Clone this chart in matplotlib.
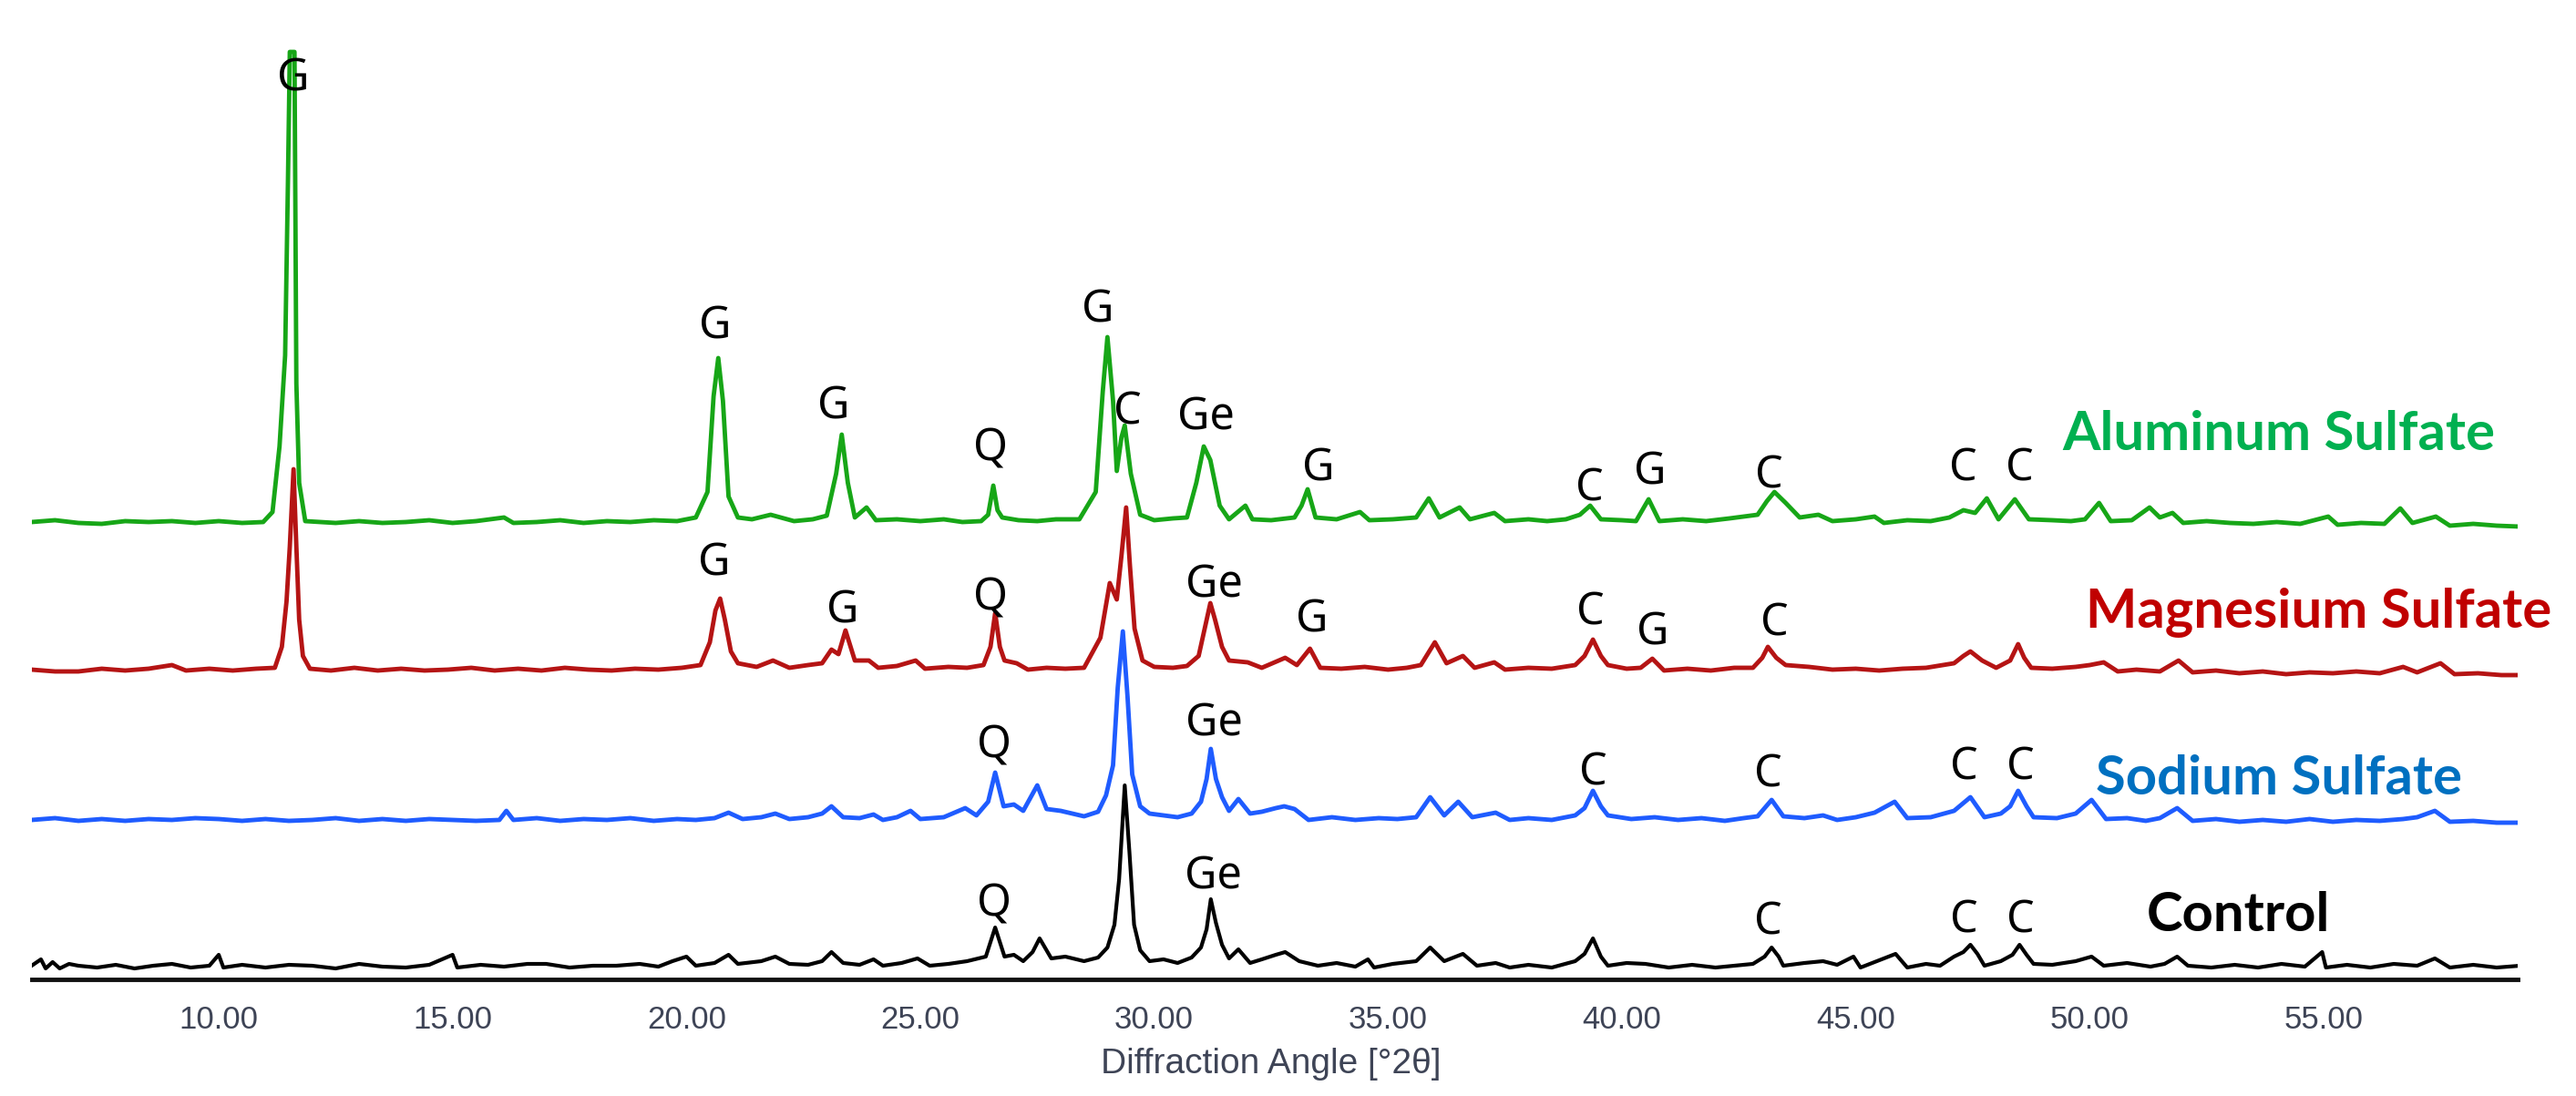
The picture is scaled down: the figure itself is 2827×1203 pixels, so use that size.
import matplotlib
matplotlib.use("Agg")
import matplotlib.pyplot as plt
from matplotlib import font_manager

# ---------------- data (2theta, raw intensity) ----------------
two_theta_ticks = [10, 15, 20, 25, 30, 35, 40, 45, 50, 55]
tick_labels = ["10.00", "15.00", "20.00", "25.00", "30.00", "35.00", "40.00", "45.00", "50.00", "55.00"]

series_names = ["Control", "Sodium Sulfate", "Magnesium Sulfate", "Aluminum Sulfate"]
series_offsets = [0, 160, 325, 490]

control_x = [6.0, 6.2, 6.3, 6.45, 6.6, 6.8, 7.0, 7.4, 7.8, 8.2, 8.6, 9.0, 9.4, 9.8, 10.0, 10.1, 10.5, 11.0,
             11.5, 12.0, 12.5, 13.0, 13.5, 14.0, 14.5, 15.0, 15.1, 15.6, 16.1, 16.6, 17.0, 17.5, 18.0, 18.5,
             19.0, 19.4, 19.7, 20.0, 20.2, 20.6, 20.9, 21.1, 21.6, 21.9, 22.2, 22.6, 22.9, 23.1, 23.35, 23.7,
             24.0, 24.2, 24.6, 24.94, 25.2, 25.6, 26.0, 26.4, 26.6, 26.8, 27.0, 27.2, 27.4, 27.55, 27.8, 28.1,
             28.5, 28.8, 29.0, 29.15, 29.25, 29.37, 29.47, 29.57, 29.7, 29.9, 30.2, 30.5, 30.8, 31.0, 31.12,
             31.21, 31.32, 31.45, 31.6, 31.8, 32.05, 32.3, 32.6, 32.8, 33.1, 33.5, 33.9, 34.3, 34.57, 34.7,
             35.1, 35.6, 35.9, 36.2, 36.6, 36.9, 37.3, 37.6, 38.0, 38.5, 39.0, 39.2, 39.38, 39.55, 39.7,
             40.1, 40.5, 41.0, 41.5, 42.0, 42.4, 42.8, 43.05, 43.2, 43.35, 43.45, 43.9, 44.3, 44.6, 44.95,
             45.1, 45.6, 45.85, 46.1, 46.5, 46.8, 47.1, 47.3, 47.45, 47.6, 47.75, 48.1, 48.35, 48.5, 48.65,
             48.8, 49.2, 49.7, 50.04, 50.3, 50.8, 51.3, 51.6, 51.87, 52.1, 52.6, 53.1, 53.6, 54.1, 54.6,
             54.97, 55.05, 55.5, 56.0, 56.5, 57.0, 57.38, 57.7, 58.2, 58.7, 59.2]
control_y = [15, 22, 12, 19, 12, 17, 15, 13, 16, 12, 15, 17, 13, 15, 27, 13, 16, 13,
             16, 15, 12, 17, 14, 13, 16, 27, 13, 16, 14, 17, 17, 13, 15, 15,
             17, 14, 20, 25, 15, 18, 27, 17, 20, 25, 17, 16, 20, 30, 18, 16,
             22, 15, 18, 23, 15, 17, 20, 25, 57, 25, 27, 20, 30, 45, 23, 25,
             20, 24, 35, 60, 110, 213, 140, 60, 32, 20, 22, 18, 24, 35, 55,
             88, 62, 38, 23, 33, 18, 22, 27, 30, 20, 15, 18, 14, 22, 13,
             17, 20, 35, 20, 28, 15, 18, 13, 16, 13, 20, 28, 45, 25, 15,
             18, 17, 13, 16, 13, 15, 17, 25, 35, 25, 15, 18, 20, 16, 25,
             13, 23, 28, 13, 17, 15, 25, 30, 38, 28, 15, 20, 27, 38, 27,
             17, 16, 20, 25, 15, 18, 14, 17, 25, 15, 13, 16, 13, 17, 14,
             30, 13, 16, 13, 17, 15, 23, 13, 16, 13, 15]

sodium_x = [6.0, 6.5, 7.0, 7.5, 8.0, 8.5, 9.0, 9.5, 10.0, 10.5, 11.0, 11.5, 12.0, 12.5, 13.0, 13.5, 14.0, 14.5,
            15.0, 15.5, 16.0, 16.15, 16.3, 16.8, 17.3, 17.8, 18.3, 18.8, 19.3, 19.8, 20.2, 20.6, 20.9, 21.2,
            21.6, 21.9, 22.2, 22.6, 22.9, 23.1, 23.35, 23.7, 24.0, 24.2, 24.5, 24.79, 25.0, 25.5, 25.96,
            26.2, 26.45, 26.6, 26.78, 27.0, 27.2, 27.5, 27.7, 28.0, 28.5, 28.8, 28.97, 29.12, 29.22, 29.33,
            29.43, 29.53, 29.7, 29.9, 30.2, 30.5, 30.8, 31.0, 31.12, 31.21, 31.32, 31.45, 31.6, 31.8,
            32.05, 32.3, 32.6, 32.78, 33.0, 33.3, 33.8, 34.3, 34.8, 35.2, 35.6, 35.9, 36.2, 36.5, 36.8,
            37.3, 37.6, 38.0, 38.5, 39.0, 39.2, 39.38, 39.55, 39.7, 40.2, 40.7, 41.2, 41.7, 42.2, 42.6,
            42.9, 43.2, 43.45, 43.9, 44.3, 44.6, 45.0, 45.4, 45.83, 46.1, 46.6, 47.1, 47.45, 47.75, 48.1,
            48.3, 48.47, 48.65, 48.8, 49.3, 49.7, 50.04, 50.35, 50.8, 51.2, 51.5, 51.87, 52.2, 52.7, 53.2,
            53.7, 54.2, 54.7, 55.2, 55.7, 56.2, 56.7, 57.0, 57.38, 57.7, 58.2, 58.7, 59.2]
sodium_y = [15, 17, 14, 16, 14, 16, 15, 17, 16, 14, 16, 14, 15, 17, 14, 16, 14, 16,
            15, 14, 15, 25, 15, 17, 14, 16, 15, 17, 14, 16, 15, 17, 23, 16,
            18, 22, 16, 18, 22, 30, 18, 17, 21, 15, 18, 25, 16, 18, 28,
            20, 35, 67, 30, 32, 25, 53, 27, 25, 19, 24, 42, 75, 160, 222,
            150, 65, 30, 22, 20, 18, 22, 35, 60, 93, 60, 40, 25, 38,
            22, 24, 28, 30, 27, 15, 18, 15, 17, 16, 18, 40, 20, 35, 18,
            23, 15, 17, 15, 20, 28, 47, 30, 20, 16, 18, 15, 17, 14, 17,
            19, 37, 19, 17, 20, 15, 18, 23, 35, 17, 18, 25, 40, 18, 22,
            30, 47, 30, 18, 17, 22, 37, 16, 17, 14, 17, 28, 14, 16, 13,
            15, 13, 16, 13, 15, 14, 16, 18, 25, 13, 14, 12, 12]

magnesium_x = [6.0, 6.5, 7.0, 7.5, 8.0, 8.5, 9.0, 9.3, 9.8, 10.3, 10.8, 11.2, 11.35, 11.45, 11.52, 11.6, 11.66,
               11.72, 11.8, 11.95, 12.4, 12.9, 13.4, 13.9, 14.4, 14.9, 15.4, 15.9, 16.4, 16.9, 17.4, 17.9,
               18.4, 18.9, 19.4, 19.9, 20.3, 20.5, 20.62, 20.72, 20.82, 20.95, 21.1, 21.5, 21.85, 22.2, 22.6,
               22.9, 23.1, 23.25, 23.4, 23.6, 23.9, 24.1, 24.5, 24.9, 25.1, 25.6, 26.0, 26.35, 26.5, 26.6,
               26.7, 26.8, 27.06, 27.3, 27.7, 28.1, 28.5, 28.85, 29.05, 29.2, 29.3, 29.4, 29.48, 29.58, 29.75,
               30.0, 30.4, 30.7, 30.95, 31.1, 31.2, 31.3, 31.45, 31.6, 32.0, 32.3, 32.8, 33.05, 33.33, 33.55,
               34.0, 34.5, 35.0, 35.4, 35.7, 36.0, 36.25, 36.6, 36.85, 37.27, 37.5, 38.0, 38.5, 39.0, 39.2,
               39.38, 39.55, 39.7, 40.1, 40.4, 40.65, 40.9, 41.4, 41.9, 42.4, 42.8, 43.0, 43.12, 43.3, 43.5,
               44.0, 44.5, 45.0, 45.5, 46.0, 46.5, 47.1, 47.3, 47.45, 47.7, 48.0, 48.3, 48.47, 48.6, 48.75,
               49.2, 49.7, 50.0, 50.3, 50.6, 51.0, 51.5, 51.9, 52.2, 52.7, 53.2, 53.7, 54.2, 54.7, 55.2, 55.7,
               56.2, 56.7, 57.0, 57.5, 57.8, 58.3, 58.8, 59.2]
magnesium_y = [15, 13, 13, 16, 14, 16, 20, 14, 16, 14, 16, 17, 40, 90, 150, 235, 150,
               70, 30, 16, 14, 17, 14, 16, 14, 15, 17, 14, 16, 14, 17, 15,
               14, 16, 15, 17, 20, 45, 80, 93, 70, 35, 22, 18, 25, 17, 20,
               22, 37, 32, 58, 25, 25, 17, 19, 25, 16, 18, 17, 20, 40, 77,
               40, 25, 22, 15, 17, 16, 17, 50, 110, 92, 140, 193, 130, 60, 25,
               18, 17, 19, 30, 65, 88, 70, 40, 25, 23, 17, 28, 20, 38, 17,
               16, 18, 15, 17, 20, 45, 22, 30, 17, 23, 15, 17, 16, 20, 30,
               48, 30, 20, 16, 17, 27, 14, 16, 14, 17, 17, 28, 40, 28, 20,
               18, 15, 16, 14, 16, 17, 22, 30, 35, 25, 17, 25, 43, 28, 17,
               16, 18, 20, 23, 13, 15, 13, 25, 12, 14, 11, 13, 10, 12, 11, 13,
               11, 18, 12, 22, 10, 11, 9, 9]

aluminum_x = [6.0, 6.5, 7.0, 7.5, 8.0, 8.5, 9.0, 9.5, 10.0, 10.5, 10.95, 11.15, 11.3, 11.42, 11.48, 11.52,
              11.62, 11.66, 11.72, 11.85, 12.5, 13.0, 13.5, 14.0, 14.5, 15.0, 15.5, 16.1, 16.3, 16.8, 17.3,
              17.8, 18.3, 18.8, 19.3, 19.8, 20.2, 20.45, 20.58, 20.68, 20.78, 20.9, 21.1, 21.4, 21.8, 22.3,
              22.7, 23.0, 23.2, 23.32, 23.45, 23.6, 23.85, 24.05, 24.5, 25.0, 25.5, 25.9, 26.3, 26.45, 26.56,
              26.65, 26.75, 27.1, 27.5, 27.9, 28.4, 28.75, 28.9, 29.0, 29.12, 29.2, 29.3, 29.37, 29.5, 29.7,
              30.0, 30.4, 30.7, 30.9, 31.06, 31.2, 31.4, 31.6, 31.95, 32.1, 32.5, 33.0, 33.15, 33.28, 33.45,
              33.9, 34.4, 34.6, 35.1, 35.6, 35.87, 36.1, 36.53, 36.75, 37.27, 37.5, 38.0, 38.4, 38.8, 39.1,
              39.32, 39.55, 40.0, 40.3, 40.57, 40.8, 41.3, 41.8, 42.3, 42.9, 43.1, 43.26, 43.5, 43.8, 44.2,
              44.5, 45.0, 45.4, 45.6, 46.1, 46.6, 47.0, 47.3, 47.55, 47.8, 48.05, 48.4, 48.7, 49.2, 49.6,
              49.9, 50.2, 50.45, 50.9, 51.28, 51.5, 51.77, 52.0, 52.5, 53.0, 53.5, 54.0, 54.5, 55.1, 55.3,
              55.8, 56.3, 56.64, 56.9, 57.4, 57.7, 58.2, 58.7, 59.2]
aluminum_y = [12, 14, 11, 10, 13, 12, 13, 11, 13, 11, 12, 23, 95, 195, 385, 528,
              528, 164, 55, 13, 11, 13, 11, 12, 14, 11, 13, 17, 11, 12, 14,
              11, 13, 12, 14, 13, 17, 45, 150, 192, 145, 40, 17, 15, 20, 13,
              15, 19, 65, 108, 55, 17, 28, 14, 15, 13, 15, 12, 13, 20, 52,
              25, 17, 14, 13, 15, 15, 45, 155, 215, 145, 68, 105, 118, 65, 20,
              14, 16, 17, 55, 95, 80, 30, 15, 30, 15, 14, 17, 30, 48, 17,
              15, 23, 14, 15, 17, 38, 17, 28, 15, 22, 13, 15, 13, 15, 20,
              30, 15, 14, 13, 37, 13, 15, 13, 16, 20, 35, 45, 33, 17, 20,
              13, 15, 18, 11, 14, 13, 17, 25, 22, 38, 15, 37, 15, 14, 13,
              15, 33, 13, 14, 28, 17, 22, 11, 13, 11, 10, 12, 10, 18, 9,
              11, 10, 27, 11, 18, 8, 10, 8, 7]

# phase labels: (2theta, plotted height, text)
aluminum_peaks = [(11.6, 989, "G"), (20.62, 717, "G"), (23.15, 628, "G"), (26.5, 582, "Q"), (28.8, 735, "G"),
                  (29.42, 623, "C"), (31.1, 617, "Ge"), (33.5, 560, "G"), (39.3, 538, "C"), (40.6, 557, "G"),
                  (43.15, 552, "C"), (47.3, 560, "C"), (48.5, 560, "C")]
magnesium_peaks = [(20.6, 457, "G"), (23.33, 405, "G"), (26.5, 418, "Q"), (31.29, 432, "Ge"), (33.38, 395, "G"),
                   (39.32, 403, "C"), (40.65, 380, "G"), (43.26, 390, "C")]
sodium_peaks = [(26.58, 257, "Q"), (31.29, 280, "Ge"), (39.38, 227, "C"), (43.12, 225, "C"),
                (47.31, 232, "C"), (48.53, 232, "C")]
control_peaks = [(26.58, 82, "Q"), (31.27, 112, "Ge"), (43.12, 62, "C"), (47.31, 65, "C"), (48.53, 65, "C")]

# series name labels: (2theta, plotted height)
name_positions = [(53.17, 70), (54.05, 220), (54.9, 403), (54.05, 598)]

# ---------------- styling ----------------
line_colors = ["#000000", "#1f5cff", "#b51414", "#17a617"]
text_colors = ["#000000", "#0070c0", "#c00000", "#00b050"]

available = {f.name for f in font_manager.fontManager.ttflist}
axis_font = "Liberation Sans" if "Liberation Sans" in available else "DejaVu Sans"
bold_font = "Lato" if "Lato" in available else "DejaVu Sans"
label_font = "Noto Sans" if "Noto Sans" in available else "DejaVu Sans"

W, H = 2827, 1203
fig = plt.figure(figsize=(W / 100, H / 100), dpi=100)
ax = fig.add_axes([35 / W, 1 - 1075 / H, (2763 - 35) / W, 1075 / H])

xs = [control_x, sodium_x, magnesium_x, aluminum_x]
ys = [control_y, sodium_y, magnesium_y, aluminum_y]
lws = [3.0, 3.5, 3.5, 3.5]
for x, y, off, c, lw in zip(xs, ys, series_offsets, line_colors, lws):
    ax.plot(x, [v + off for v in y], color=c, lw=lw, solid_joinstyle="round")

for peaks in [control_peaks, sodium_peaks, magnesium_peaks, aluminum_peaks]:
    for px, py, t in peaks:
        ax.text(px, py, t, ha="center", va="center", fontsize=35, family=label_font, color="black")

for name, (nx, ny), tc in zip(series_names, name_positions, text_colors):
    ax.text(nx, ny, name, ha="center", va="center", fontsize=43, family=bold_font,
            fontweight="bold", color=tc)

ax.set_xlim(6.006, 59.15)
ax.set_ylim(0, 1075)
ax.set_xticks(two_theta_ticks)
ax.set_xticklabels(tick_labels, family=axis_font, fontsize=25, color="#3e4456")
ax.tick_params(axis="x", length=0, pad=20)
ax.set_yticks([])
for s in ["left", "right", "top"]:
    ax.spines[s].set_visible(False)
ax.spines["bottom"].set_linewidth(3.5)
ax.spines["bottom"].set_color("#111111")
ax.patch.set_alpha(0)

fig.text(1395 / W, 1 - 1168 / H, "Diffraction Angle [°2θ]", ha="center", va="center",
         family=axis_font, fontsize=28, color="#3e4456")

fig.savefig("out.png", dpi=100, facecolor="white")
